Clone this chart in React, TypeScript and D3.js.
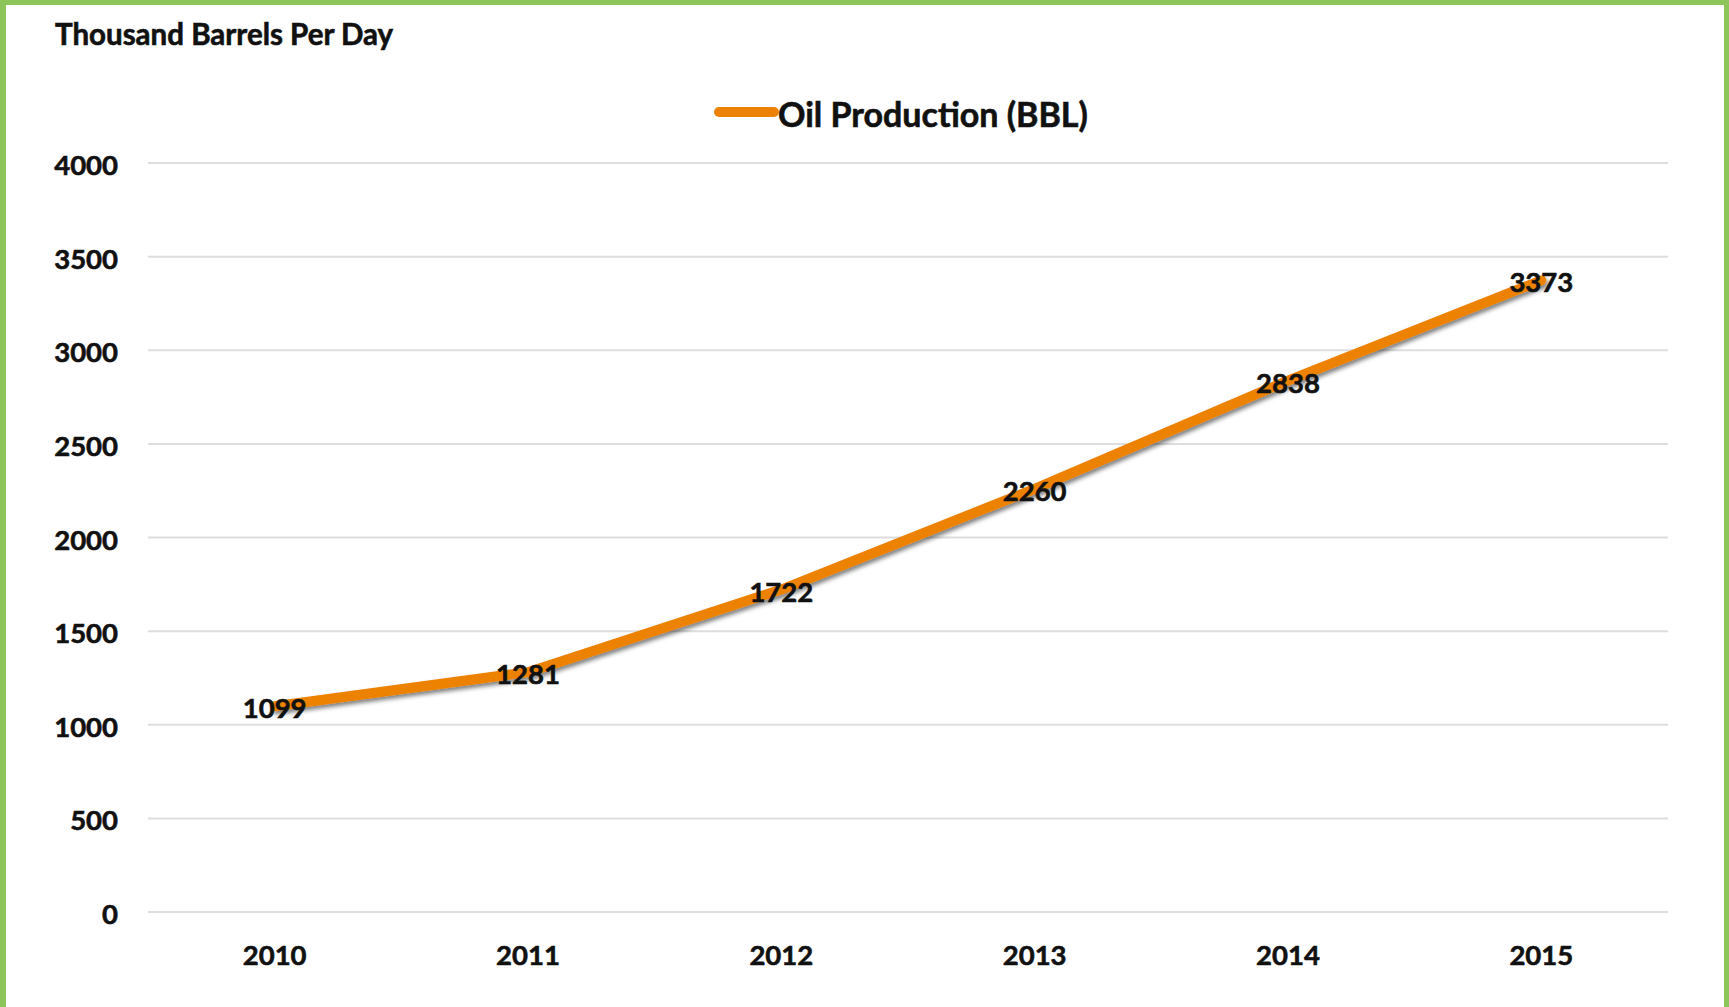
import React from "react";
import * as d3 from "d3";

const years = ["2010", "2011", "2012", "2013", "2014", "2015"];
const production = [1099, 1281, 1722, 2260, 2838, 3373];
const yTicks = [0, 500, 1000, 1500, 2000, 2500, 3000, 3500, 4000];

const W = 1729;
const H = 1007;
const margin = { top: 163, right: 61, bottom: 95, left: 148 };
const FONT = "Lato, 'Open Sans', sans-serif";
const ORANGE = "#ED8105";
const GREEN = "#8CC65A";
const INK = "#111";

// slight stroke to make Lato bold look closer to the heavier original face
const textStyle = {
  fontFamily: FONT,
  fontWeight: 700,
  fill: INK,
  stroke: INK,
  strokeWidth: 0.6,
};

export default function App() {
  const x = d3
    .scaleBand()
    .domain(years)
    .range([margin.left, W - margin.right]);
  const y = d3
    .scaleLinear()
    .domain([0, 4000])
    .range([H - margin.bottom, margin.top]);

  const cx = (yr) => x(yr) + x.bandwidth() / 2;

  const line = d3
    .line()
    .x((d, i) => cx(years[i]))
    .y((d) => y(d));

  return (
    <div style={{ position: "absolute", left: 0, top: 0 }}>
      <svg width={W} height={H} style={{ display: "block", background: "#fff" }}>
        <defs>
          <filter id="shadow" x="-10%" y="-10%" width="120%" height="130%">
            <feDropShadow dx="2" dy="3" stdDeviation="2" floodColor="#000" floodOpacity="0.5" />
          </filter>
        </defs>

        {/* green frame */}
        <rect x={0} y={0} width={W} height={5} fill={GREEN} />
        <rect x={0} y={0} width={6} height={H} fill={GREEN} />
        <rect x={W - 5} y={0} width={5} height={H} fill={GREEN} />

        <text x={55} y={45} fontSize={29.5} style={textStyle}>
          Thousand Barrels Per Day
        </text>

        {/* legend */}
        <line x1={719} x2={774} y1={112} y2={112} stroke={ORANGE} strokeWidth={10} strokeLinecap="round" />
        <text x={778} y={127} fontSize={34} style={textStyle}>
          Oil Production (BBL)
        </text>

        {/* grid + y axis */}
        {yTicks.map((t) => (
          <g key={t}>
            <line
              x1={margin.left}
              x2={W - margin.right}
              y1={y(t)}
              y2={y(t)}
              stroke="#DEDEDE"
              strokeWidth={2}
            />
            <text x={118} y={y(t) + 12} textAnchor="end" fontSize={27.5} style={textStyle}>
              {t}
            </text>
          </g>
        ))}

        {/* x axis labels */}
        {years.map((yr) => (
          <text key={yr} x={cx(yr)} y={965} textAnchor="middle" fontSize={27.5} style={textStyle}>
            {yr}
          </text>
        ))}

        <path
          d={line(production)}
          fill="none"
          stroke={ORANGE}
          strokeWidth={10}
          strokeLinejoin="round"
          strokeLinecap="round"
          filter="url(#shadow)"
        />

        {/* data labels */}
        {production.map((v, i) => (
          <text
            key={i}
            x={cx(years[i])}
            y={y(v) + 12}
            textAnchor="middle"
            fontSize={27.5}
            style={textStyle}
          >
            {v}
          </text>
        ))}
      </svg>
    </div>
  );
}
